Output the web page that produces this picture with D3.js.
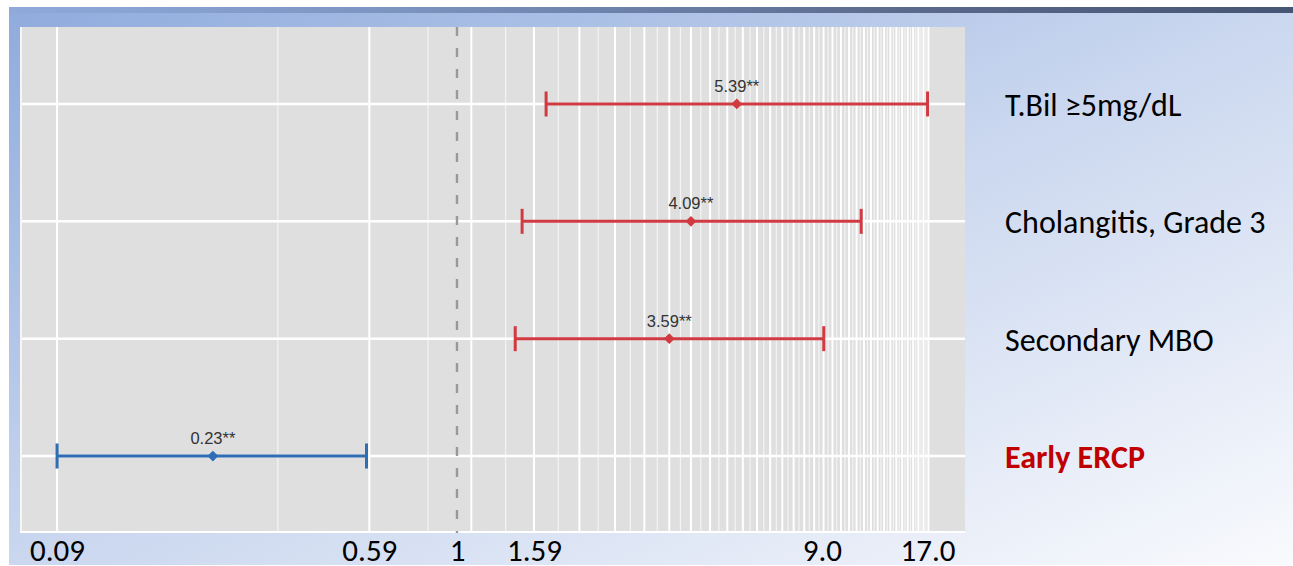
<!DOCTYPE html>
<html>
<head>
<meta charset="utf-8">
<script src="https://cdn.jsdelivr.net/npm/d3@7"></script>
<style>
  html, body { margin: 0; padding: 0; background: #fff; }
  svg { display: block; }
</style>
</head>
<body>
<svg id="forest" width="1293" height="566"></svg>
<script>
// odds ratios (log scale)
const factors = ["T.Bil ≥5mg/dL", "Cholangitis, Grade 3", "Secondary MBO", "Early ERCP"];
const estimates = [5.39, 4.09, 3.59, 0.23];
const lowerCI = [1.71, 1.48, 1.42, 0.09];
const upperCI = [17.0, 11.4, 9.1, 0.58];
const stars = ["**", "**", "**", "**"];
const tickValues = [0.09, 0.59, 1, 1.59, 9.0, 17.0];
const tickLabels = ["0.09", "0.59", "1", "1.59", "9.0", "17.0"];

const width = 1293;
const height = 566;
const panel = { left: 20, top: 27, right: 965, bottom: 533 };
const labelFont = "Calibri, Carlito, 'Liberation Sans', Arial, sans-serif";

const svg = d3.select("#forest");
const defs = svg.append("defs");

// slide background
const bg = defs.append("linearGradient").attr("id", "slideBg")
  .attr("x1", 0).attr("y1", 0).attr("x2", 1).attr("y2", 1);
bg.append("stop").attr("offset", 0).attr("stop-color", "#8fabdd");
bg.append("stop").attr("offset", 0.5).attr("stop-color", "#cad7ef");
bg.append("stop").attr("offset", 1).attr("stop-color", "#f9fafd");

const bar = defs.append("linearGradient").attr("id", "topBar")
  .attr("x1", 0).attr("y1", 0).attr("x2", 1).attr("y2", 0);
bar.append("stop").attr("offset", 0).attr("stop-color", "#8fa9da");
bar.append("stop").attr("offset", 0.3).attr("stop-color", "#7c94c0");
bar.append("stop").attr("offset", 0.7).attr("stop-color", "#5a6a8c");
bar.append("stop").attr("offset", 1).attr("stop-color", "#475574");

svg.append("rect").attr("x", 9).attr("y", 7)
  .attr("width", width - 9).attr("height", 558)
  .attr("fill", "url(#slideBg)");
svg.append("rect").attr("x", 9).attr("y", 7)
  .attr("width", width - 9).attr("height", 6)
  .attr("fill", "url(#topBar)");

// scales
const x = d3.scaleLog()
  .domain([0.072, 21.3])
  .range([panel.left, panel.right]);

const y = d3.scalePoint()
  .domain(factors)
  .range([panel.top, panel.bottom])
  .padding(0.656);

// chart panel
const g = svg.append("g");
g.append("rect")
  .attr("x", panel.left).attr("y", panel.top)
  .attr("width", panel.right - panel.left)
  .attr("height", panel.bottom - panel.top)
  .attr("fill", "#dfdfdf");

// grid breaks every 0.25 from 0.09 (major every 0.5)
const majorBreaks = d3.range(0.09, 17.2, 0.5);
const minorBreaks = d3.range(0.34, 17.2, 0.5);

g.selectAll("line.minor")
  .data(minorBreaks)
  .enter()
  .append("line")
  .attr("class", "minor")
  .attr("x1", d => x(d)).attr("x2", d => x(d))
  .attr("y1", panel.top).attr("y2", panel.bottom)
  .attr("stroke", "#f4f4f4")
  .attr("stroke-width", 1.2);

g.selectAll("line.major")
  .data(majorBreaks)
  .enter()
  .append("line")
  .attr("class", "major")
  .attr("x1", d => x(d)).attr("x2", d => x(d))
  .attr("y1", panel.top).attr("y2", panel.bottom)
  .attr("stroke", "#ffffff")
  .attr("stroke-width", 2);

g.selectAll("line.row")
  .data(factors)
  .enter()
  .append("line")
  .attr("class", "row")
  .attr("x1", panel.left).attr("x2", panel.right)
  .attr("y1", d => y(d)).attr("y2", d => y(d))
  .attr("stroke", "#ffffff")
  .attr("stroke-width", 2.5);

// panel edges
g.append("line")
  .attr("x1", panel.left + 1).attr("x2", panel.left + 1)
  .attr("y1", panel.top).attr("y2", panel.bottom)
  .attr("stroke", "#f6f6f6").attr("stroke-width", 2);
g.append("line")
  .attr("x1", panel.left).attr("x2", panel.right)
  .attr("y1", panel.bottom - 1).attr("y2", panel.bottom - 1)
  .attr("stroke", "#ffffff").attr("stroke-width", 2);

// reference line at OR = 1
g.append("line")
  .attr("x1", x(1)).attr("x2", x(1))
  .attr("y1", panel.top).attr("y2", panel.bottom)
  .attr("stroke", "#999999")
  .attr("stroke-width", 2.4)
  .attr("stroke-dasharray", "9,12");

// error bars
const rows = factors.map((f, i) => ({
  name: f,
  est: estimates[i],
  lo: lowerCI[i],
  hi: upperCI[i],
  label: estimates[i].toFixed(2) + stars[i],
  color: estimates[i] < 1 ? "#2f6db5" : "#d03a40"
}));

const bars = g.selectAll("g.bar")
  .data(rows)
  .enter()
  .append("g")
  .attr("class", "bar");

bars.append("line")
  .attr("x1", d => x(d.lo)).attr("x2", d => x(d.hi))
  .attr("y1", d => y(d.name)).attr("y2", d => y(d.name))
  .attr("stroke", d => d.color)
  .attr("stroke-width", 3);

bars.append("line")
  .attr("x1", d => x(d.lo)).attr("x2", d => x(d.lo))
  .attr("y1", d => y(d.name) - 12.5).attr("y2", d => y(d.name) + 12.5)
  .attr("stroke", d => d.color)
  .attr("stroke-width", 3);

bars.append("line")
  .attr("x1", d => x(d.hi)).attr("x2", d => x(d.hi))
  .attr("y1", d => y(d.name) - 12.5).attr("y2", d => y(d.name) + 12.5)
  .attr("stroke", d => d.color)
  .attr("stroke-width", 3);

bars.append("path")
  .attr("d", d3.symbol().type(d3.symbolSquare).size(58))
  .attr("transform", d => "translate(" + x(d.est) + "," + y(d.name) + ") rotate(45)")
  .attr("fill", d => d.color);

bars.append("text")
  .attr("x", d => x(d.est))
  .attr("y", d => y(d.name) - 12)
  .attr("text-anchor", "middle")
  .attr("font-family", "'Liberation Sans', Arial, sans-serif")
  .attr("font-size", 16.5)
  .attr("fill", "#333")
  .text(d => d.label);

// x tick labels
const xAxis = d3.axisBottom(x)
  .tickValues(tickValues)
  .tickFormat((d, i) => tickLabels[i])
  .tickSize(0)
  .tickPadding(0);

const ax = svg.append("g")
  .attr("transform", "translate(0," + 539 + ")")
  .call(xAxis);
ax.select(".domain").remove();
ax.selectAll("text")
  .attr("dy", 0)
  .attr("y", 22)
  .attr("font-family", labelFont)
  .attr("font-size", 31)
  .attr("fill", "#000");

// factor labels to the right of the panel
svg.selectAll("text.factor")
  .data(factors)
  .enter()
  .append("text")
  .attr("class", "factor")
  .attr("x", 1005)
  .attr("y", d => y(d) + 12)
  .attr("font-family", labelFont)
  .attr("font-size", 32)
  .attr("font-weight", (d, i) => i === factors.length - 1 ? "bold" : "normal")
  .attr("fill", (d, i) => i === factors.length - 1 ? "#c00000" : "#000")
  .text(d => d);
</script>
</body>
</html>
